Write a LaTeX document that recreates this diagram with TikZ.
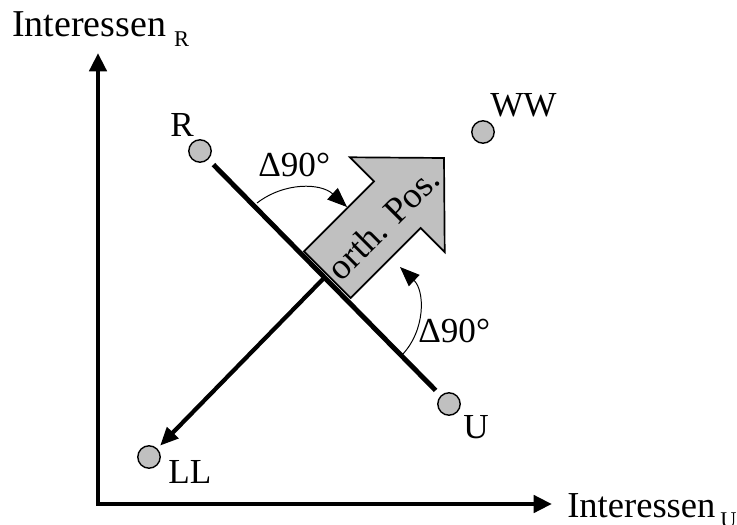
\documentclass[tikz,border=0pt]{standalone}
\usepackage{fontspec}
\setmainfont{Liberation Serif}
\usepackage{tikz}
\usetikzlibrary{arrows.meta,calc}
\definecolor{dotgrey}{RGB}{192,192,192}
\newcommand{\idx}[2][0.2cm]{\hspace{#1}\raisebox{-0.25cm}{\fontsize{16}{18}\selectfont #2}}

\begin{document}
\begin{tikzpicture}[font=\fontsize{25}{30}\selectfont,
    dot/.style={circle,draw,line width=1pt,fill=dotgrey,minimum size=0.56cm,inner sep=0pt},
    lbl/.style={inner sep=0pt,anchor=base west},
    axislbl/.style={lbl,font=\fontsize{27}{32}\selectfont},
    axisline/.style={line width=3.5pt,arrows={Triangle[length=13pt,width=12pt]-Triangle[length=13pt,width=12pt]}},
    swing/.style={line width=0.7pt,-{Triangle[length=14pt,width=11pt]}}]
  \useasboundingbox (0,0) rectangle (18.425,13.1);
  % Axes
  \coordinate (O) at (2.45,0.5);
  \coordinate (ytip) at (2.45,11.775);
  \coordinate (xtip) at (13.8,0.5);
  \draw[axisline] (ytip) -- (O) -- (xtip);
  \node[axislbl] (ylab) at (0.3,12.175) {Interessen\idx{R}};
  \node[axislbl,font=\fontsize{26}{31}\selectfont] (xlab) at (14.175,0.175) {Interessen\idx[0.12cm]{U}};
  % Positions
  \node[dot] (R) at (5.0,9.325) {};
  \node[dot] (WW) at (12.075,9.8) {};
  \node[dot] (U) at (11.225,3.0) {};
  \node[dot] (LL) at (3.725,1.675) {};
  \node[lbl] (Rlab) at (4.25,9.675) {R};
  \node[lbl] (WWlab) at (12.25,10.175) {WW};
  \node[lbl] (Ulab) at (11.575,2.15) {U};
  \node[lbl] (LLlab) at (4.2,1.025) {LL};
  % Line R--U and arrow to LL
  \draw[line width=3.5pt,shorten <=0.18cm,shorten >=0.18cm] (R) -- (U);
  \coordinate (X) at ($(R)!0.5!(U)$);
  \draw[line width=3pt,-{Triangle[length=13pt,width=11pt]},shorten >=0.1cm] (X) -- (LL);
  % Orthogonal position arrow
  \begin{scope}[shift={(X)},rotate=45]
    \draw[line width=1.2pt,fill=dotgrey]
      (0.1,0.825) -- (2.575,0.825) -- (2.575,1.675) -- (4.225,0)
      -- (2.575,-1.675) -- (2.575,-0.825) -- (0.1,-0.825) -- cycle;
    \node[rotate=45,inner sep=0pt,font=\fontsize{26}{31}\selectfont] (orth) at (2.0,-0.08) {orth. Pos.};
  \end{scope}
  % Turning arrows
  \coordinate (a1) at (6.425,8.025);
  \coordinate (a2) at (8.675,7.925);
  \draw[swing] (a1) to[bend left=40] (a2);
  \node[lbl] (d1) at (6.45,8.675) {Δ90°};
  \coordinate (b1) at (10.05,4.225);
  \coordinate (b2) at (10.0,6.425);
  \draw[swing] (b1) to[bend right=45] (b2);
  \node[lbl] (d2) at (10.45,4.55) {Δ90°};
\end{tikzpicture}
\end{document}
